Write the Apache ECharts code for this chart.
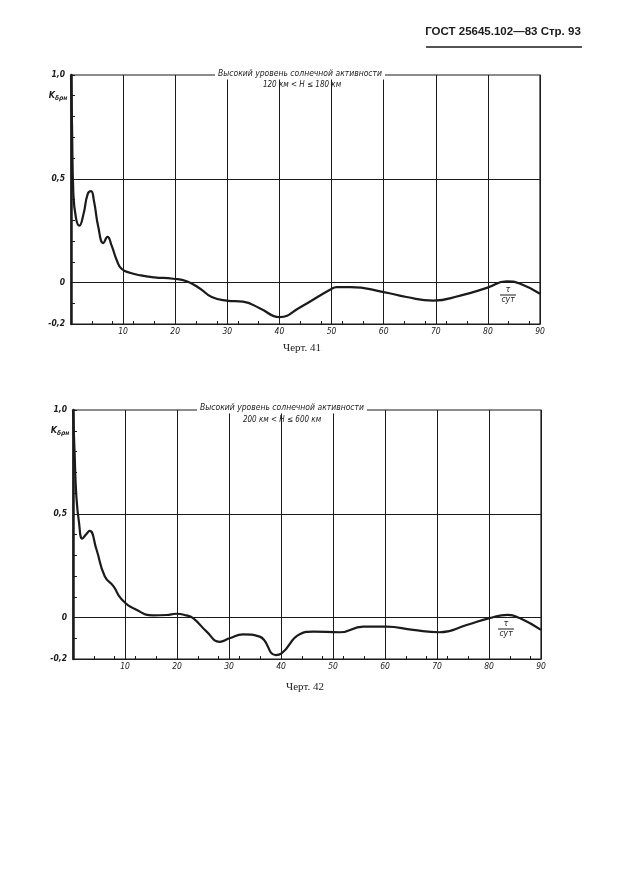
<!DOCTYPE html>
<html>
<head>
<meta charset="utf-8">
<script src="https://cdn.jsdelivr.net/npm/echarts@6/dist/echarts.min.js"></script>
<style>
html,body{margin:0;padding:0;background:#fff;}
#c{width:625px;height:884px;}
</style>
</head>
<body>
<div id="c"></div>
<script>
// ---- data ----
const xMin = 0, xMax = 90, xGridStep = 10, xTickStep = 4;
const yMin = -0.2, yMax = 1.0, yTickStep = 0.1;
const yLabelValues = [1.0, 0.5, 0, -0.2];
const yLabelTexts = ['1,0', '0,5', '0', '-0,2'];
const midLineValue = 0.5;

// Черт. 41 : 120 км < H ≤ 180 км
const chart1X = [0, 0.2, 0.45, 0.96, 1.6, 2.4, 3.2, 3.84, 4.4, 5.25, 6.2, 7.0, 7.8, 8.8, 9.7, 11.3, 13.4, 16, 19.6, 22.2, 24.8, 27, 29.9, 33, 36.3, 40, 44, 49.7, 51, 53.6, 60, 64.4, 69.5, 74.7, 79.8, 83.6, 86.2, 90];
const chart1Y = [1.0, 0.75, 0.43, 0.31, 0.274, 0.33, 0.426, 0.44, 0.394, 0.266, 0.19, 0.22, 0.178, 0.106, 0.066, 0.047, 0.034, 0.025, 0.018, 0.006, -0.03, -0.07, -0.087, -0.092, -0.125, -0.167, -0.119, -0.035, -0.022, -0.022, -0.046, -0.07, -0.087, -0.063, -0.026, 0.006, -0.006, -0.054];

// Черт. 42 : 200 км < H ≤ 600 км
const chart2X = [0, 0.3, 0.64, 1.15, 1.8, 2.5, 3.2, 4.5, 6.1, 7.8, 9.3, 12.2, 15.4, 18, 19.9, 21.8, 23.1, 25.7, 28.2, 30.1, 32.7, 35.9, 39, 40.1, 43.6, 46.2, 51.3, 55.8, 60.3, 65.4, 70.5, 75.7, 80.1, 83.6, 85.9, 90];
const chart2Y = [1.0, 0.8, 0.587, 0.458, 0.38, 0.40, 0.417, 0.329, 0.199, 0.15, 0.089, 0.037, 0.01, 0.012, 0.018, 0.01, -0.003, -0.068, -0.117, -0.1, -0.081, -0.092, -0.181, -0.173, -0.081, -0.068, -0.071, -0.044, -0.044, -0.06, -0.071, -0.036, -0.003, 0.013, -0.003, -0.06];

const headerText = 'ГОСТ 25645.102—83 Стр. 93';
const titleLine1 = 'Высокий уровень солнечной активности';
const chart1Line2 = '120 км < H ≤ 180 км';
const chart2Line2 = '200 км < H ≤ 600 км';
const caption1 = 'Черт. 41';
const caption2 = 'Черт. 42';

// ---- build ----
const ink = '#1b1b1b';
const pairs = (xs, ys) => xs.map((x, i) => [x, ys[i]]);
const yFmt = v => {
  for (let i = 0; i < yLabelValues.length; i++) {
    if (Math.abs(v - yLabelValues[i]) < 1e-6) return yLabelTexts[i];
  }
  return '';
};

function mainX(gi) {
  return {
    type: 'value', gridIndex: gi, min: xMin, max: xMax, interval: xGridStep,
    position: 'bottom',
    axisLine: { onZero: true, lineStyle: { color: ink, width: 1.2 } },
    axisTick: { show: false },
    axisLabel: {
      margin: 3, fontSize: 8.5, fontStyle: 'italic', color: ink,
      fontFamily: 'DejaVu Sans Condensed, DejaVu Sans',
      formatter: v => (v === 0 ? '' : String(v))
    },
    splitLine: { show: true, lineStyle: { color: ink, width: 1 } }
  };
}
function tickX(gi) {
  return {
    type: 'value', gridIndex: gi, min: xMin, max: xMax, interval: xTickStep,
    position: 'bottom',
    axisLine: { onZero: true, lineStyle: { color: ink, width: 1.2 } },
    axisTick: { show: true, inside: true, length: 3, lineStyle: { color: ink, width: 1 } },
    axisLabel: { show: false },
    splitLine: { show: false }
  };
}
function yAx(gi) {
  return {
    type: 'value', gridIndex: gi, min: yMin, max: yMax, interval: yTickStep,
    axisLine: { show: true, lineStyle: { color: ink, width: 2.5 } },
    axisTick: { show: true, inside: true, length: 4, lineStyle: { color: ink, width: 1 } },
    axisLabel: {
      margin: 6, fontSize: 8.5, fontStyle: 'italic', fontWeight: 'bold', color: ink,
      fontFamily: 'DejaVu Sans Condensed, DejaVu Sans',
      formatter: yFmt
    },
    splitLine: { show: false }
  };
}
function curve(xi, yi, data) {
  return {
    type: 'line', xAxisIndex: xi, yAxisIndex: yi, data: data,
    smooth: 0.5, showSymbol: false,
    lineStyle: { color: ink, width: 2.2 },
    markLine: {
      silent: true, symbol: 'none', label: { show: false },
      lineStyle: { color: ink, width: 1, type: 'solid' },
      data: [{ yAxis: midLineValue }]
    },
    animation: false
  };
}

const txtFont = 'DejaVu Sans Condensed, DejaVu Sans';
function txt(x, y, text, opt) {
  return {
    type: 'text', x: x, y: y, z: 100,
    style: Object.assign({
      text: text, fill: ink, font: 'italic 8.5px ' + txtFont,
      align: 'center', verticalAlign: 'middle'
    }, opt || {})
  };
}
function yName(x, y) {
  return {
    type: 'text', x: x, y: y, z: 100,
    style: {
      text: '{k|K}{s|δρн}', align: 'center', verticalAlign: 'middle',
      rich: {
        k: { fontSize: 9, fontStyle: 'italic', fontWeight: 'bold', fill: ink, fontFamily: txtFont },
        s: { fontSize: 6.5, fontStyle: 'italic', fontWeight: 'bold', fill: ink, fontFamily: txtFont, padding: [4, 0, 0, 0] }
      }
    }
  };
}
function tauUnit(x, y) {
  return [
    txt(x, y - 5, 'τ', { font: 'italic 9px ' + txtFont }),
    { type: 'line', z: 100, shape: { x1: x - 8, y1: y, x2: x + 8, y2: y }, style: { stroke: ink, lineWidth: 1 } },
    txt(x, y + 5, 'сут', { font: 'italic 8.5px ' + txtFont })
  ];
}

const option = {
  backgroundColor: '#fff',
  animation: false,
  grid: [
    { left: 71, top: 75, width: 469, height: 249, show: true, borderColor: ink, borderWidth: 1.2, backgroundColor: 'transparent' },
    { left: 73, top: 410, width: 468, height: 249, show: true, borderColor: ink, borderWidth: 1.2, backgroundColor: 'transparent' }
  ],
  xAxis: [mainX(0), tickX(0), mainX(1), tickX(1)],
  yAxis: [yAx(0), yAx(1)],
  series: [
    curve(0, 0, pairs(chart1X, chart1Y)),
    curve(2, 1, pairs(chart2X, chart2Y))
  ],
  graphic: [].concat(
    [
      txt(503, 32, headerText, { font: 'bold 11.5px Liberation Sans, Arial', align: 'center' }),
      { type: 'line', z: 100, shape: { x1: 426, y1: 47, x2: 582, y2: 47 }, style: { stroke: ink, lineWidth: 1.5 } },
      txt(300, 74, titleLine1, { backgroundColor: '#fff', padding: [1, 3, 1, 3] }),
      txt(302, 85, chart1Line2, { font: 'italic 8px ' + txtFont }),
      txt(282, 408, titleLine1, { backgroundColor: '#fff', padding: [1, 3, 1, 3] }),
      txt(282, 420, chart2Line2, { font: 'italic 8px ' + txtFont }),
      txt(302, 348, caption1, { font: '11px Liberation Serif, Times New Roman' }),
      txt(305, 687, caption2, { font: '11px Liberation Serif, Times New Roman' }),
      yName(58, 96),
      yName(60, 431)
    ],
    tauUnit(508, 295),
    tauUnit(506, 629)
  )
};

const chart = echarts.init(document.getElementById('c'), null, { renderer: 'canvas' });
chart.setOption(option);
</script>
</body>
</html>
